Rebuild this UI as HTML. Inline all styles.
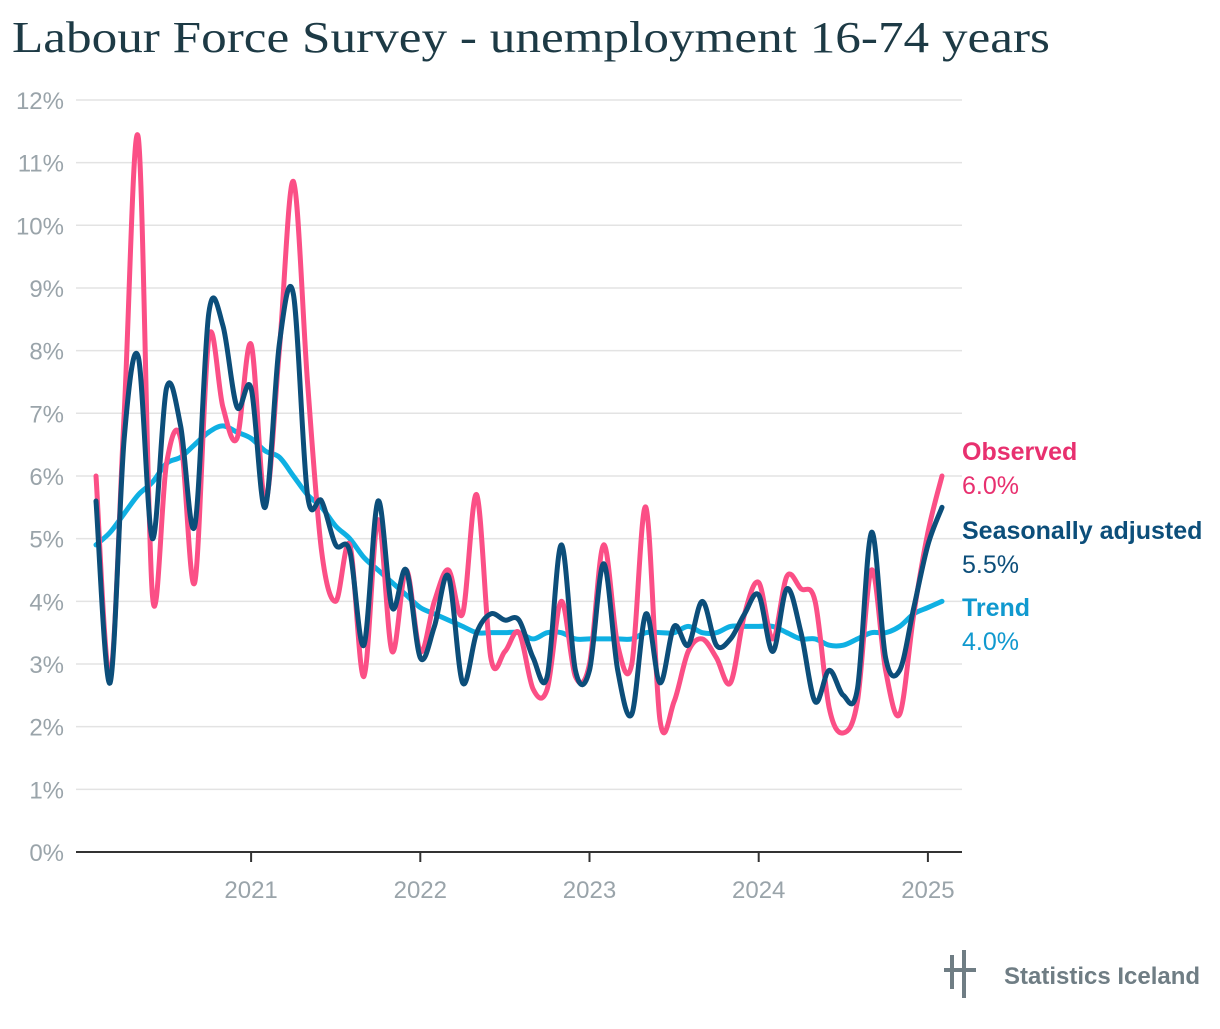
<!DOCTYPE html>
<html><head><meta charset="utf-8"><style>
body{margin:0;background:#fff;width:1220px;height:1024px;overflow:hidden;font-family:"Liberation Sans",sans-serif}
</style></head><body>
<svg width="1220" height="1024">
<text x="12" y="52" font-family="Liberation Serif, serif" font-size="44" textLength="1038" lengthAdjust="spacingAndGlyphs" fill="#1d3a45">Labour Force Survey - unemployment 16-74 years</text>
<g id="grid"></g><g id="xaxis"></g><g id="lines"></g><g id="labels"></g>
<g fill="#6f7d84">
<rect x="950" y="955" width="4" height="34"/><rect x="962" y="950" width="4" height="48"/><rect x="944" y="968" width="32" height="4"/>
<text x="1004" y="984" font-size="24" font-weight="bold" fill="#6f7d84">Statistics Iceland</text></g>
</svg>
<script>
const observed=[6.0,2.8,7.0,11.4,4.1,6.2,6.6,4.3,8.2,7.1,6.6,8.1,5.6,8.0,10.7,7.5,4.8,4.0,4.9,2.8,5.3,3.2,4.5,3.2,4.0,4.5,3.8,5.7,3.1,3.2,3.5,2.6,2.6,4.0,2.8,3.0,4.9,3.3,3.0,5.5,2.1,2.4,3.2,3.4,3.1,2.7,3.8,4.3,3.4,4.4,4.2,4.0,2.3,1.9,2.4,4.5,2.9,2.2,3.8,5.1,6.0];
const seasonal=[5.6,2.7,6.6,7.9,5.0,7.4,6.8,5.2,8.6,8.4,7.1,7.4,5.5,8.1,8.9,5.7,5.6,4.9,4.8,3.3,5.6,3.9,4.5,3.1,3.6,4.4,2.7,3.5,3.8,3.7,3.7,3.1,2.8,4.9,2.9,2.9,4.6,2.9,2.2,3.8,2.7,3.6,3.3,4.0,3.3,3.4,3.8,4.1,3.2,4.2,3.5,2.4,2.9,2.5,2.6,5.1,3.1,2.9,3.9,4.9,5.5];
const trend=[4.9,5.1,5.4,5.7,5.9,6.2,6.3,6.5,6.7,6.8,6.7,6.6,6.4,6.3,6.0,5.7,5.5,5.2,5.0,4.7,4.5,4.3,4.1,3.9,3.8,3.7,3.6,3.5,3.5,3.5,3.5,3.4,3.5,3.5,3.4,3.4,3.4,3.4,3.4,3.5,3.5,3.5,3.6,3.5,3.5,3.6,3.6,3.6,3.6,3.5,3.4,3.4,3.3,3.3,3.4,3.5,3.5,3.6,3.8,3.9,4.0];
const yTicks=[0,1,2,3,4,5,6,7,8,9,10,11,12];
const years=[2021,2022,2023,2024,2025];
const NS="http://www.w3.org/2000/svg";
const x=i=>96+i*14.1;
const y=v=>852-v*62.67;
function mk(t,a,p){const e=document.createElementNS(NS,t);for(const k in a)e.setAttribute(k,a[k]);p.appendChild(e);return e;}
const grid=document.getElementById('grid');
yTicks.forEach(v=>{
 const l=mk('line',{x1:76,x2:962,y1:y(v),y2:y(v),stroke:v?'#e3e3e3':'#333','stroke-width':v?1.5:2},grid);
 
 
 const t=mk('text',{x:64,y:y(v)+9,'text-anchor':'end','font-size':24,fill:'#9aa4aa'},grid);
 t.textContent=v+'%';
 
 
});
const xa=document.getElementById('xaxis');
years.forEach(yr=>{
 const xi=x((yr-2020)*12-1);
 const l=mk('line',{x1:xi,x2:xi,y1:852,y2:862,stroke:'#333','stroke-width':2},xa);
 
 
 const t=mk('text',{x:xi,y:898,'text-anchor':'middle','font-size':24,fill:'#9aa4aa'},xa);
 t.textContent=yr;
 
 
});
function path(d){
 const p=d.map((v,i)=>[x(i),y(v)]);let s='M'+p[0][0]+','+p[0][1];
 for(let i=0;i<p.length-1;i++){const a=p[Math.max(i-1,0)],b=p[i],c=p[i+1],e=p[Math.min(i+2,p.length-1)];
  const k=1/6;s+=` C${b[0]+(c[0]-a[0])*k},${b[1]+(c[1]-a[1])*k} ${c[0]-(e[0]-b[0])*k},${c[1]-(e[1]-b[1])*k} ${c[0]},${c[1]}`;}
 return s;}
const lg=document.getElementById('lines');
[[trend,'#0fb0e3','trend-line'],[observed,'#fb4f86','observed-line'],[seasonal,'#0c4e7a','seasonally-adjusted-line']].forEach(([d,c,n])=>{
 const e=mk('path',{d:path(d),fill:'none',stroke:c,'stroke-width':5,'stroke-linejoin':'round','stroke-linecap':'round'},lg);
 
 
});
const lb=document.getElementById('labels');
[['Observed',observed,'#e8306f',460],['Seasonally adjusted',seasonal,'#0c4e7a',539],['Trend',trend,'#1099cf',616]].forEach(([n,d,c,yy])=>{
 const t=mk('text',{x:962,y:yy,'font-size':25,'font-weight':'bold',fill:c},lb);t.textContent=n;
 
 
 const v=mk('text',{x:962,y:yy+34,'font-size':25,fill:c},lb);v.textContent=d[d.length-1].toFixed(1)+'%';
 
 
});
</script>
</body></html>
